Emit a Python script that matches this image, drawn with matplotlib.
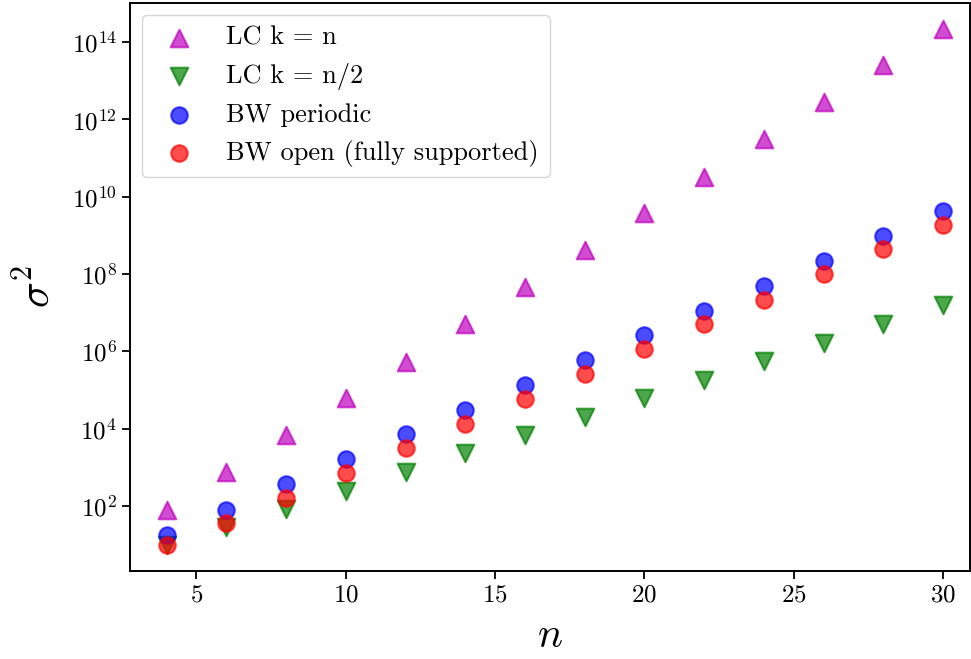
import numpy as np
import matplotlib
matplotlib.use("Agg")
import matplotlib.pyplot as plt
from matplotlib.ticker import LogLocator, NullLocator, MultipleLocator

plt.rcParams['font.family'] = 'serif'
plt.rcParams['font.serif'] = ['cmr10', 'DejaVu Serif']
plt.rcParams['mathtext.fontset'] = 'cm'
plt.rcParams['axes.formatter.use_mathtext'] = True

# system sizes
n = [4, 6, 8, 10, 12, 14, 16, 18, 20, 22, 24, 26, 28, 30]

# log10 of the variance
lc_full_log = [1.90, 2.88, 3.84, 4.79, 5.72, 6.71, 7.66, 8.62, 9.58, 10.51, 11.49, 12.45, 13.41, 14.34]
lc_half_log = [0.99, 1.46, 1.92, 2.39, 2.88, 3.37, 3.84, 4.31, 4.79, 5.26, 5.75, 6.22, 6.71, 7.20]
bw_periodic_log = [1.25, 1.90, 2.57, 3.22, 3.86, 4.48, 5.13, 5.78, 6.42, 7.04, 7.69, 8.35, 8.98, 9.63]
bw_open_log = [0.99, 1.56, 2.21, 2.85, 3.50, 4.12, 4.77, 5.41, 6.06, 6.71, 7.33, 8.00, 8.65, 9.27]

lc_full = 10.0 ** np.array(lc_full_log)
lc_half = 10.0 ** np.array(lc_half_log)
bw_periodic = 10.0 ** np.array(bw_periodic_log)
bw_open = 10.0 ** np.array(bw_open_log)

fig, ax = plt.subplots(figsize=(9.71, 6.59), dpi=100)

ax.scatter(n, lc_full, marker='^', s=160, c='m', alpha=0.7, linewidths=1.5, label='LC k = n')
ax.scatter(n, lc_half, marker='v', s=160, c='g', alpha=0.7, linewidths=1.5, label='LC k = n/2')
ax.scatter(n, bw_periodic, marker='o', s=140, c='b', alpha=0.7, linewidths=1.5, label='BW periodic')
ax.scatter(n, bw_open, marker='o', s=140, c='r', alpha=0.7, linewidths=1.5, label='BW open (fully supported)')

ax.set_yscale('log')
ax.set_xlim(2.78, 30.9)
ax.yaxis.set_major_locator(LogLocator(base=100))
ax.yaxis.set_minor_locator(NullLocator())
ax.xaxis.set_major_locator(MultipleLocator(5))

ax.tick_params(labelsize=18, width=1.3, length=6)
for sp in ax.spines.values():
    sp.set_linewidth(1.4)

ax.set_xlabel(r'$n$', fontsize=30, labelpad=8)
ax.set_ylabel(r'$\sigma^2$', fontsize=31, labelpad=10)

ax.legend(loc='upper left', fontsize=19, handlelength=2.0, handletextpad=0.8,
          labelspacing=0.5, borderaxespad=0.45, borderpad=0.4)

plt.subplots_adjust(left=0.134, right=0.999, top=0.995, bottom=0.134)
plt.savefig('out.png', dpi=100)
